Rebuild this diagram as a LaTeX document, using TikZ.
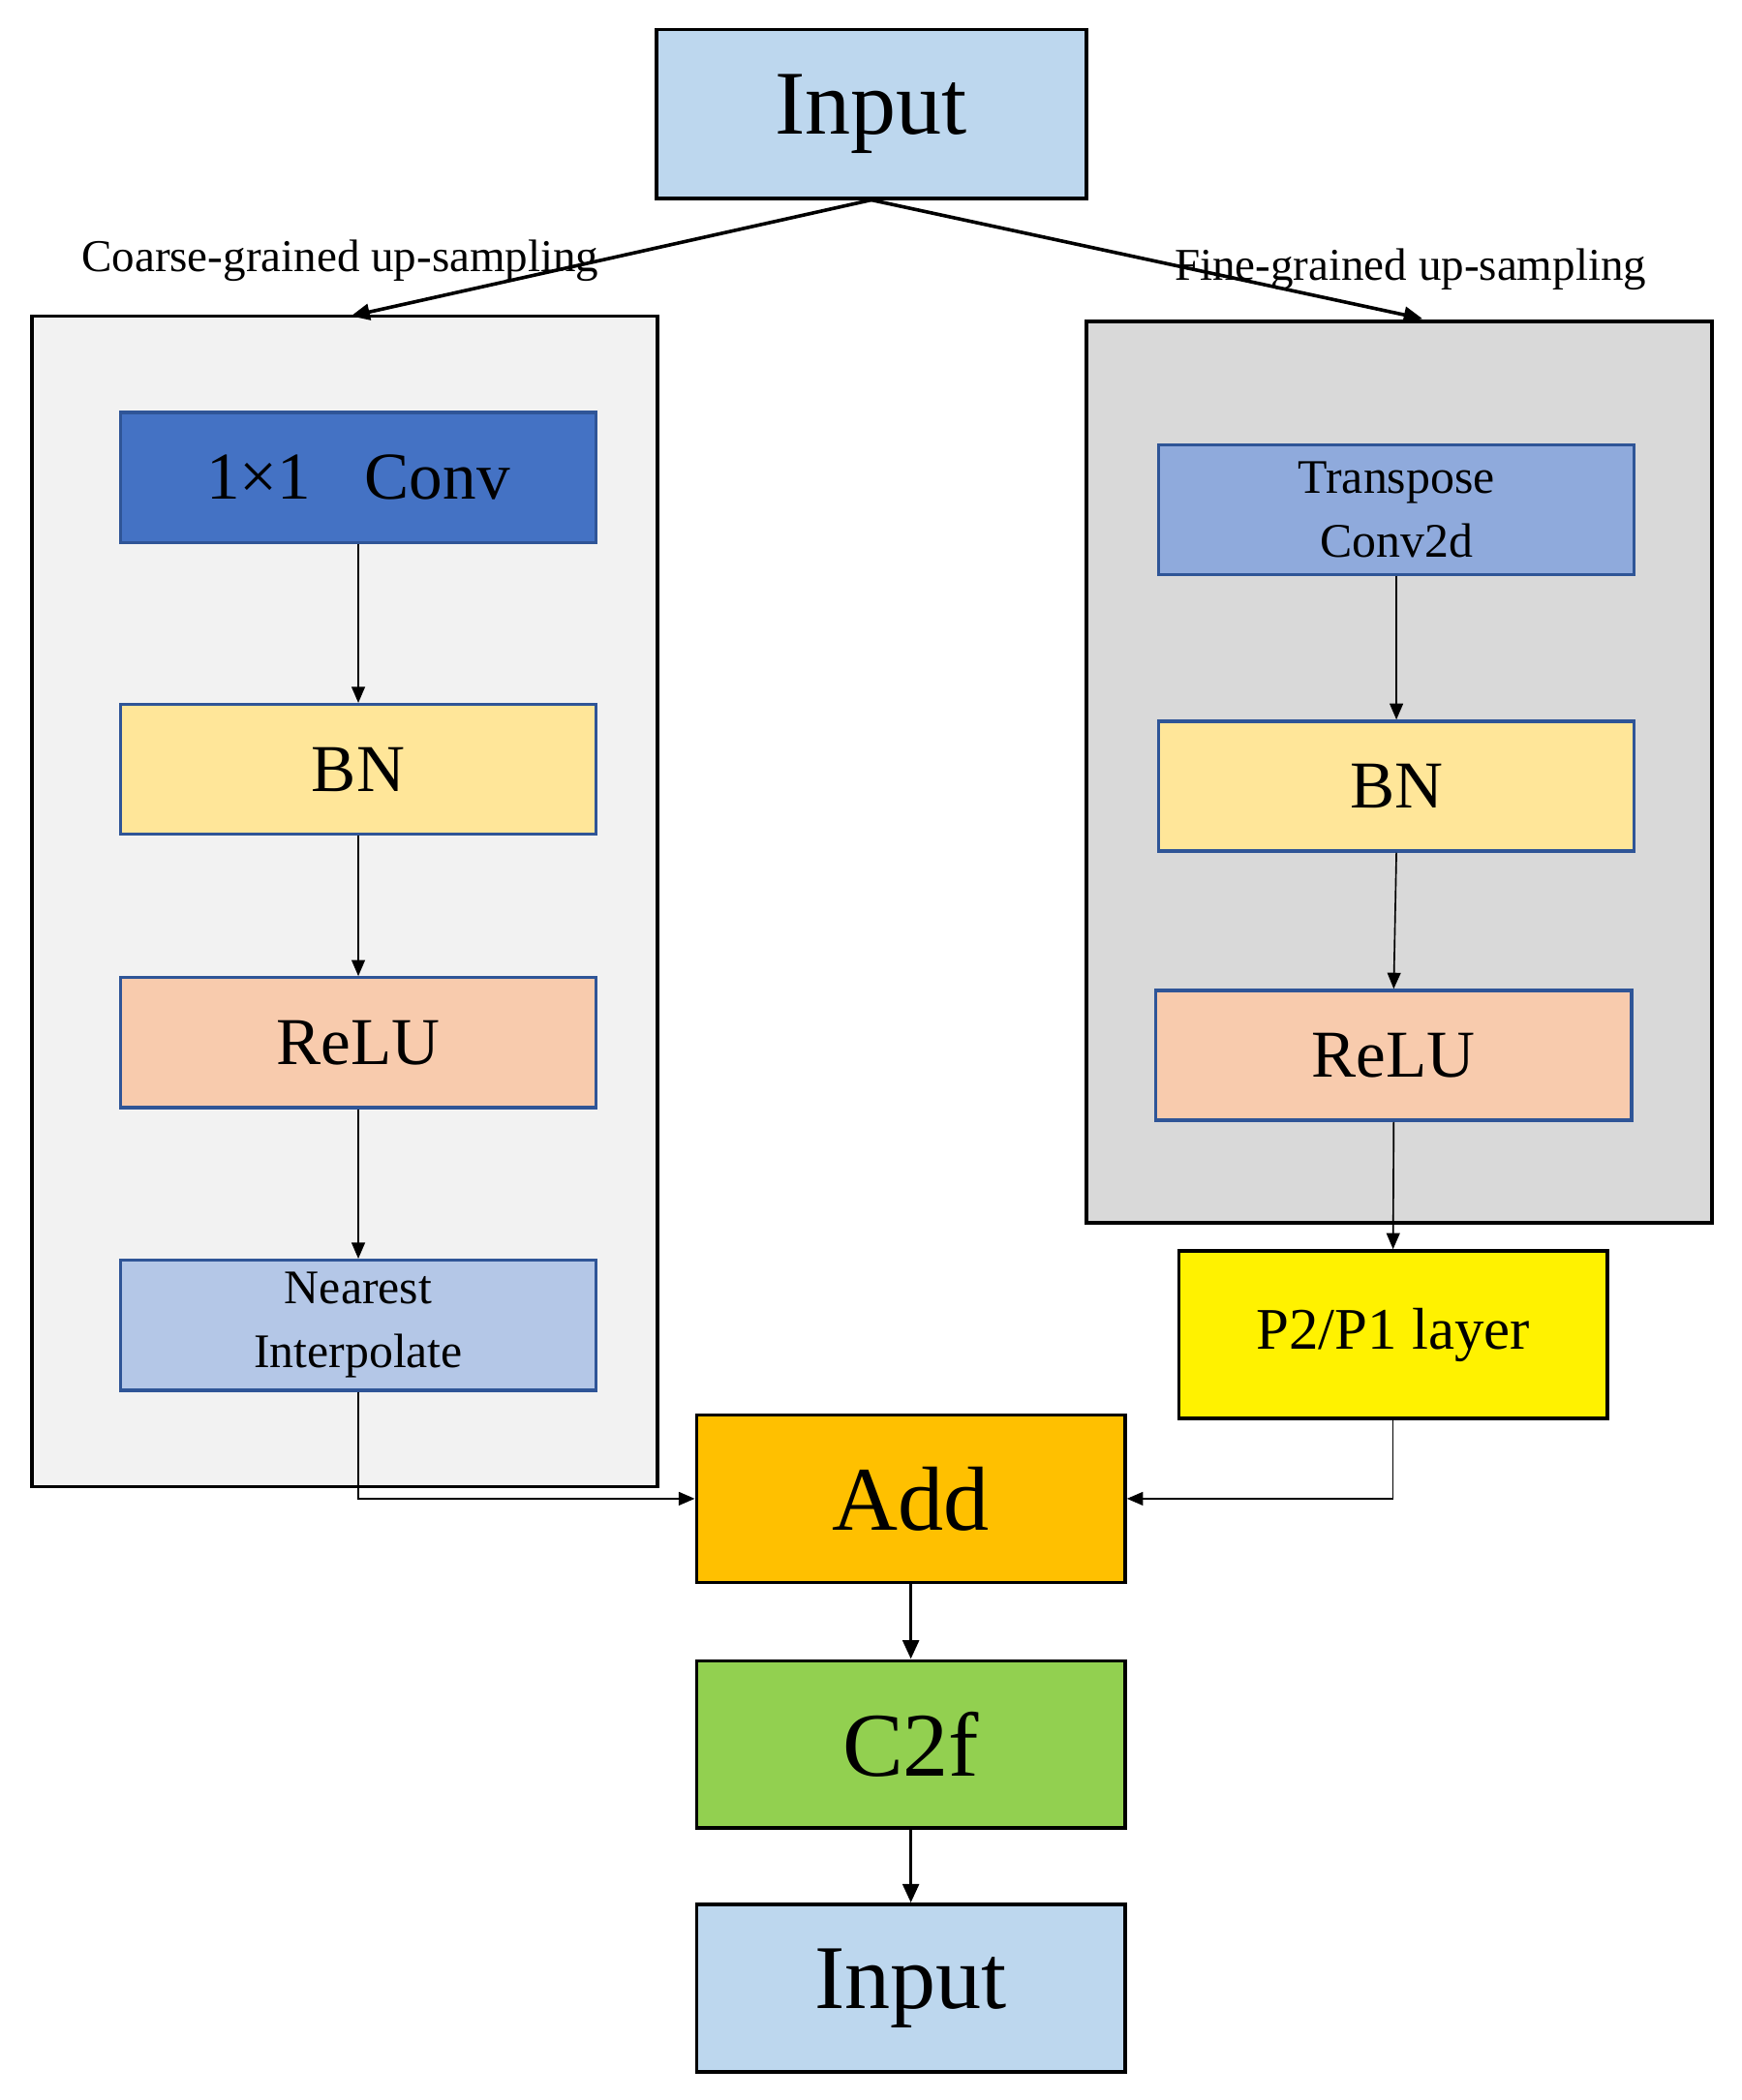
\documentclass[tikz,border=0pt]{standalone}
\usepackage{fontspec}
\setmainfont{Liberation Serif}
\usetikzlibrary{arrows.meta}
\definecolor{inblue}{HTML}{BDD7EE}
\definecolor{convblue}{HTML}{4472C4}
\definecolor{bdblue}{HTML}{2F5597}
\definecolor{bnyel}{HTML}{FFE699}
\definecolor{relu}{HTML}{F8CBAD}
\definecolor{near}{HTML}{B4C7E7}
\definecolor{trans}{HTML}{8FAADC}
\definecolor{addc}{HTML}{FFC000}
\definecolor{c2f}{HTML}{92D050}
\begin{document}
\begin{tikzpicture}[x=0.5pt,y=-0.5pt,
  inner/.style={draw=bdblue,line width=1.2pt,minimum width=177.5pt,minimum height=48.5pt,inner sep=0pt,align=center},
  big/.style={draw=black,line width=1.3pt,minimum width=160pt,minimum height=62.5pt,inner sep=0pt,font=\fontsize{34}{36}\selectfont},
  panel/.style={draw=black,line width=1.3pt,minimum width=233.5pt,inner sep=0pt},
  thin/.style={-{Triangle[length=6pt,width=5pt]},line width=0.6pt},
  thick/.style={-{Triangle[length=7pt,width=6pt]},line width=1.3pt}]
\useasboundingbox (0,0) rectangle (1300,1568);
\node[panel,fill=black!5,minimum height=437pt] (lp) at (257.5,673) {};
\node[panel,fill=black!15,minimum height=336.5pt] (rp) at (1044.5,576.5) {};
\node[big,fill=inblue,minimum width=160.5pt,minimum height=63pt] (in) at (650.5,85) {Input};
\node[font=\fontsize{17}{19}\selectfont] (cl) at (254,195) {Coarse-grained up-sampling};
\node[font=\fontsize{17}{19}\selectfont] (fl) at (1053,201) {Fine-grained up-sampling};
\coordinate (lt) at (262,236);
\coordinate (rt) at (1062,238);
\draw[thick] (in.south) -- (lt);
\draw[thick] (in.south) -- (rt);
\node[inner,fill=convblue,font=\fontsize{25}{27}\selectfont] (conv) at (267.5,356.5) {1\texttimes1\hspace{0.8em}Conv};
\node[inner,fill=bnyel,font=\fontsize{25}{27}\selectfont] (bnl) at (267.5,574.5) {BN};
\node[inner,fill=relu,font=\fontsize{25}{27}\selectfont] (rel) at (267.5,778.5) {ReLU};
\node[inner,fill=near,font=\fontsize{18}{24}\selectfont] (nr) at (267.5,989.5) {Nearest\\Interpolate};
\node[inner,fill=trans,font=\fontsize{18}{24}\selectfont] (tr) at (1042.5,380.5) {Transpose\\Conv2d};
\node[inner,fill=bnyel,font=\fontsize{25}{27}\selectfont] (bnr) at (1042.5,587) {BN};
\node[inner,fill=relu,font=\fontsize{25}{27}\selectfont] (rer) at (1040.5,788) {ReLU};
\node[big,fill=yellow,font=\fontsize{22}{24}\selectfont] (p2) at (1040,996.5) {P2/P1 layer};
\node[big,fill=addc] (add) at (680,1119) {Add};
\node[big,fill=c2f] (c2f) at (680,1302.5) {C2f};
\node[big,fill=inblue] (out) at (680,1484.5) {Input};
\draw[thin] (conv.south) -- (bnl.north);
\draw[thin] (bnl.south) -- (rel.north);
\draw[thin] (rel.south) -- (nr.north);
\draw[thin] (tr.south) -- (bnr.north);
\draw[thin] (bnr.south) -- (rer.north);
\draw[thin] (rer.south) -- (p2.north);
\draw[thin] (nr.south) |- (add.west);
\draw[thin] (p2.south) |- (add.east);
\draw[thick] (add.south) -- (c2f.north);
\draw[thick] (c2f.south) -- (out.north);
\end{tikzpicture}
\end{document}
